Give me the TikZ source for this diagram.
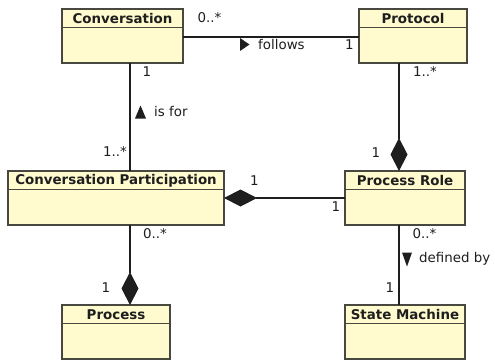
\documentclass[tikz,border=0pt]{standalone}
\usepackage{fontspec}
\setmainfont{DejaVu Sans}
\usetikzlibrary{arrows.meta}
\definecolor{classfill}{RGB}{255,251,206}
\definecolor{classedge}{RGB}{72,72,64}
\definecolor{ink}{RGB}{30,30,30}
\tikzset{
  umlclass/.style={draw=classedge, fill=classfill, line width=1.4pt,
    rectangle, inner sep=0pt, outer sep=0pt, minimum height=54pt,
    path picture={\draw[classedge, line width=1.2pt]
      ([yshift=-18.5pt]path picture bounding box.north west) --
      ([yshift=-18.5pt]path picture bounding box.north east);}},
  classname/.style={inner sep=0pt, text=ink, font=\fontsize{13.4pt}{16pt}\selectfont\bfseries},
  conn/.style={draw=ink, line width=1.2pt},
  comp/.style={-{Diamond[length=33pt,width=17pt]}},
  mult/.style={inner sep=0pt, text=ink, font=\fontsize{13.4pt}{16pt}\selectfont},
  rolename/.style={inner sep=0pt, anchor=west, text=ink, font=\fontsize{13.4pt}{16pt}\selectfont},
}
\begin{document}
\begin{tikzpicture}[x=1pt,y=-1pt]
\useasboundingbox (0,0) rectangle (495,362);

% classes
\node[umlclass, minimum width=121pt] (conv)  at (122.5,36)  {};
\node[umlclass, minimum width=108pt] (proto) at (413,36)    {};
\node[umlclass, minimum width=216pt] (cp)    at (116,198)   {};
\node[umlclass, minimum width=120pt] (pr)    at (405,198)   {};
\node[umlclass, minimum width=108pt] (proc)  at (116,332)   {};
\node[umlclass, minimum width=120pt] (sm)    at (405,332)   {};

\node[classname] (convT)  at ([yshift=-9.5pt]conv.north)  {Conversation};
\node[classname] (protoT) at ([yshift=-9.5pt]proto.north) {Protocol};
\node[classname] (cpT)    at ([yshift=-9.5pt]cp.north)    {Conversation Participation};
\node[classname] (prT)    at ([yshift=-9.5pt]pr.north)    {Process Role};
\node[classname] (procT)  at ([yshift=-9.5pt]proc.north)  {Process};
\node[classname] (smT)    at ([yshift=-9.5pt]sm.north)    {State Machine};

% vertical connector tracks
\coordinate (xl) at (130,0);
\coordinate (xr) at (399,0);
\coordinate (yf) at (0,37);

% associations and compositions
\draw[conn] (conv.east |- yf) -- (proto.west |- yf);
\draw[conn] (conv.south -| xl) -- (cp.north -| xl);
\draw[conn, comp] (proto.south -| xr) -- (pr.north -| xr);
\draw[conn, {Diamond[length=33pt,width=17pt]}-] (cp.east) -- (pr.west);
\draw[conn, comp] (cp.south -| xl) -- (proc.north -| xl);
\draw[conn] (pr.south -| xr) -- (sm.north -| xr);

% reading-direction markers
\fill[ink] (240,38) -- (249.5,44.5) -- (240,51) -- cycle;
\fill[ink] (135,118.5) -- (140.5,105.5) -- (146,118.5) -- cycle;
\fill[ink] (402,252.5) -- (412,252.5) -- (407,266.5) -- cycle;

\node[rolename] (follows) at (258,45)  {follows};
\node[rolename] (isfor)   at (154,112) {is for};
\node[rolename] (defby)   at (419,259) {defined by};

% multiplicities
\node[mult] (m1)  at (209.5,18) {0..*};
\node[mult] (m2)  at (349.5,45) {1};
\node[mult] (m3)  at (147,72)   {1};
\node[mult] (m4)  at (425,72)   {1..*};
\node[mult] (m5)  at (115,152)  {1..*};
\node[mult] (m6)  at (376,153)  {1};
\node[mult] (m7)  at (254.5,181) {1};
\node[mult] (m8)  at (336,207)  {1};
\node[mult] (m9)  at (155,234)  {0..*};
\node[mult] (m10) at (424.5,234) {0..*};
\node[mult] (m11) at (390,288)  {1};
\node[mult] (m12) at (106,288)  {1};
\end{tikzpicture}
\end{document}
